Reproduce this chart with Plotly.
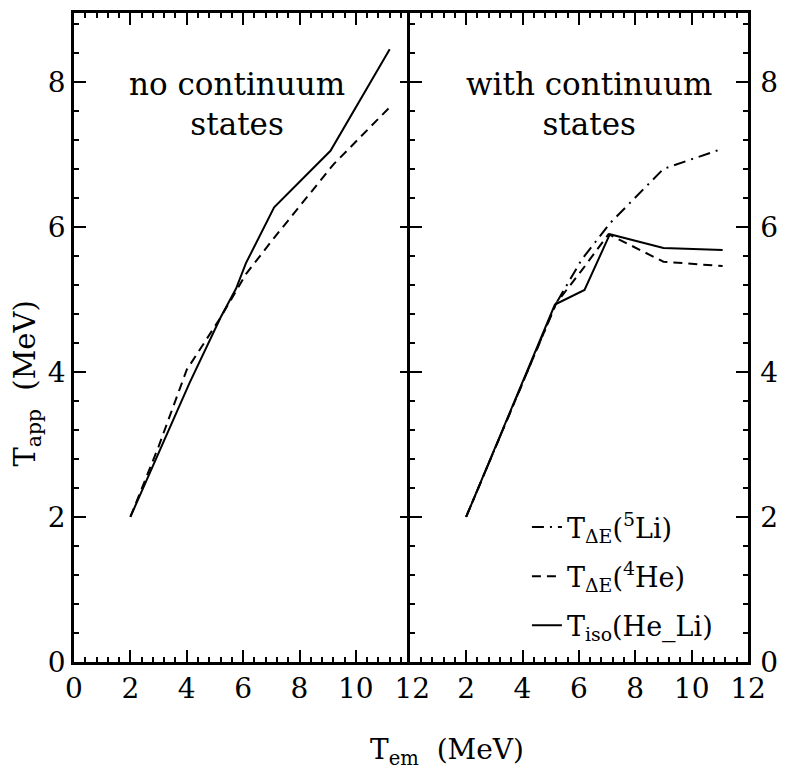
import plotly.graph_objects as go

# ---- data ----
x_ticks_left = [0, 2, 4, 6, 8, 10, 12]
x_ticks_right = [2, 4, 6, 8, 10, 12]
y_ticks = [0, 2, 4, 6, 8]

left_solid_x = [2.0, 4.1, 5.2, 5.75, 6.1, 7.1, 9.1, 11.2]
left_solid_y = [2.0, 3.85, 4.75, 5.15, 5.5, 6.27, 7.05, 8.45]
left_dash_x = [2.0, 3.0, 4.0, 5.2, 6.1, 7.1, 9.2, 11.25]
left_dash_y = [2.0, 2.97, 4.03, 4.75, 5.35, 5.85, 6.86, 7.67]

right_dashdot_x = [2.0, 5.2, 6.1, 7.1, 9.0, 11.1]
right_dashdot_y = [2.0, 4.95, 5.55, 6.05, 6.8, 7.08]
right_dash_x = [2.0, 5.2, 6.1, 7.05, 9.0, 11.1]
right_dash_y = [2.0, 4.95, 5.4, 5.9, 5.52, 5.46]
right_solid_x = [2.0, 5.15, 6.2, 7.1, 9.0, 11.1]
right_solid_y = [2.0, 4.93, 5.13, 5.9, 5.71, 5.68]

names = ["T<sub>ΔE</sub>(<sup>5</sup>Li)", "T<sub>ΔE</sub>(<sup>4</sup>He)", "T<sub>iso</sub>(He_Li)"]

FONT = "DejaVu Serif"
DASH = "9px,6px"
DASHDOT = "12px,6px,2px,6px"
LW = 2.5
PLOT_W = 788 - 74 - 38
HALF = LW / PLOT_W  # overlap so the shared border is a single line

fig = go.Figure()
fig.add_trace(go.Scatter(x=left_dash_x, y=left_dash_y, mode="lines", xaxis="x", yaxis="y",
                         line=dict(color="black", width=2, dash=DASH), showlegend=False))
fig.add_trace(go.Scatter(x=left_solid_x, y=left_solid_y, mode="lines", xaxis="x", yaxis="y",
                         line=dict(color="black", width=2), showlegend=False))
fig.add_trace(go.Scatter(x=right_dashdot_x, y=right_dashdot_y, mode="lines", xaxis="x2", yaxis="y2",
                         name=names[0], legendgroup="a",
                         line=dict(color="black", width=2, dash=DASHDOT)))
fig.add_trace(go.Scatter(x=right_dash_x, y=right_dash_y, mode="lines", xaxis="x2", yaxis="y2",
                         name=names[1], legendgroup="b",
                         line=dict(color="black", width=2, dash=DASH)))
fig.add_trace(go.Scatter(x=right_solid_x, y=right_solid_y, mode="lines", xaxis="x2", yaxis="y2",
                         name=names[2], legendgroup="c",
                         line=dict(color="black", width=2)))

common = dict(showline=True, linewidth=LW, linecolor="black", mirror="allticks",
              ticks="inside", ticklen=12, tickwidth=2, tickcolor="black",
              minor=dict(ticks="inside", ticklen=5, tickwidth=1.5, dtick=0.4, tick0=0,
                         tickcolor="black"),
              showgrid=False, zeroline=False,
              tickfont=dict(family=FONT, size=28, color="black"))

fig.update_layout(
    width=788, height=780,
    margin=dict(l=74, r=38, t=10, b=118),
    paper_bgcolor="white", plot_bgcolor="white",
    font=dict(family=FONT, color="black"),
    xaxis=dict(domain=[0, 0.5 + HALF / 2], range=[0, 12], tickvals=x_ticks_left, anchor="y", **common),
    xaxis2=dict(domain=[0.5 - HALF / 2, 1], range=[0, 12], tickvals=x_ticks_right, anchor="y2", **common),
    yaxis=dict(domain=[0, 1], range=[0, 8.95], tickvals=y_ticks, anchor="x", **common),
    yaxis2=dict(domain=[0, 1], range=[0, 8.95], tickvals=y_ticks, anchor="x2", side="right",
                ticklabelstandoff=4, **common),
    legend=dict(x=0.672, y=0.245, xanchor="left", yanchor="top", bgcolor="rgba(0,0,0,0)",
                font=dict(family=FONT, size=27, color="black"), tracegroupgap=11),
    annotations=[
        dict(text="no continuum<br>states", x=5.8, y=7.7, xref="x", yref="y", showarrow=False,
             font=dict(family=FONT, size=31, color="black"), align="center"),
        dict(text="with continuum<br>states", x=6.36, y=7.7, xref="x2", yref="y2", showarrow=False,
             font=dict(family=FONT, size=31, color="black"), align="center"),
        dict(text="T<sub>em</sub>  (MeV)", x=0.553, y=-0.138, xref="paper", yref="paper",
             showarrow=False, xanchor="center", yanchor="middle",
             font=dict(family=FONT, size=28, color="black")),
        dict(text="T<sub>app</sub>  (MeV)", x=-0.0695, y=0.4294, xref="paper", yref="paper",
             showarrow=False, xanchor="center", yanchor="middle", textangle=-90,
             font=dict(family=FONT, size=29, color="black")),
    ],
)

fig.write_html("out.html")
